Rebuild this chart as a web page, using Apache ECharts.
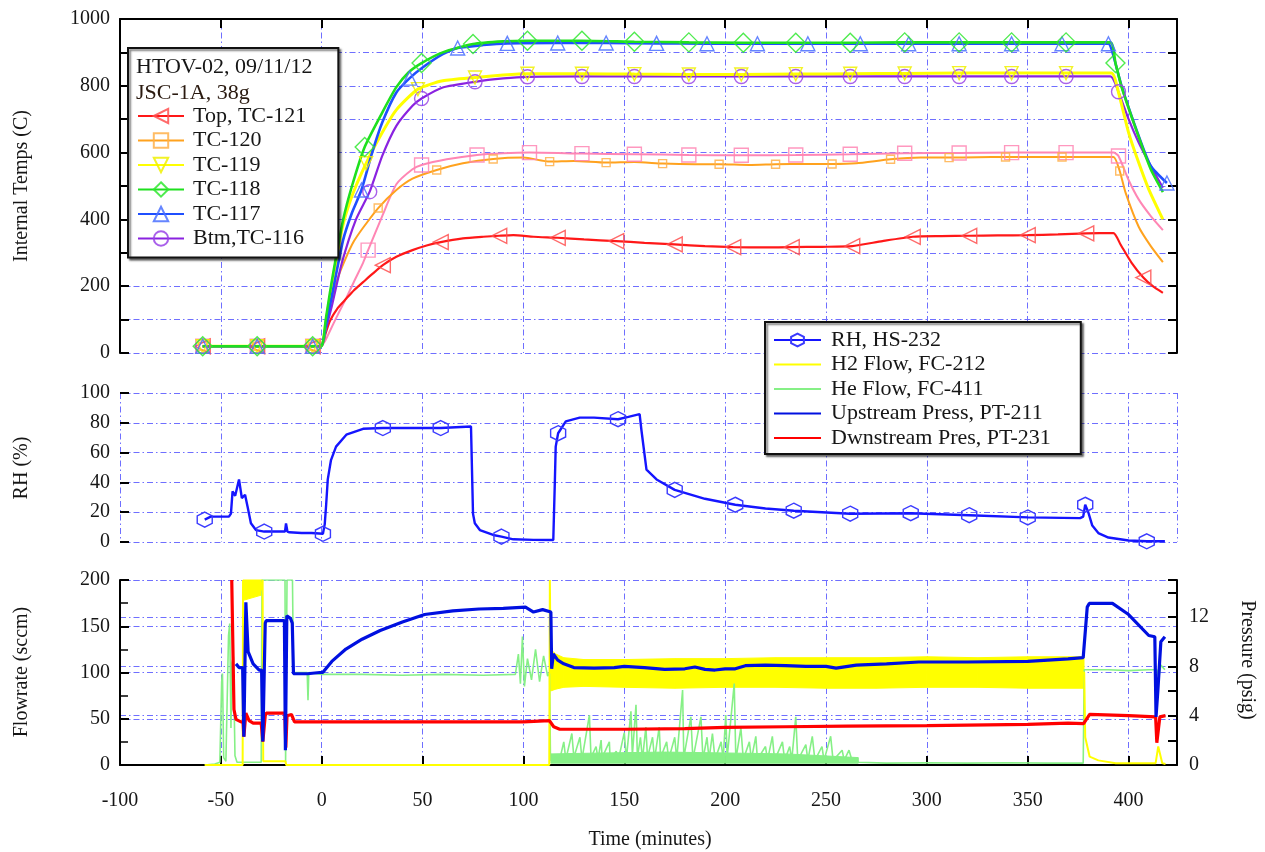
<!DOCTYPE html>
<html><head><meta charset="utf-8">
<script src="https://cdn.jsdelivr.net/npm/echarts@6/dist/echarts.min.js"></script>
<style>html,body{margin:0;padding:0;background:#fff}#c{width:1265px;height:852px}</style>
</head><body><div id="c"></div>
<script>
// ---------- DATA (time in minutes) ----------
const timeTicks = [-100,-50,0,50,100,150,200,250,300,350,400];
const preMarks = [-59,-32,-4.5];

const tc121 = [[-59,20],[-32,20],[-4.5,20],[0,22],[2,60],[4,95],[8,135],[12.2,163],[16,188],[20.5,212],[25,236],[30.3,263],[37,288],[45,308],[52,322],[59,332],[70,343],[80,348],[88,351],[95,353],[105,348],[117,345],[130,340],[146,335],[160,330],[175,325],[190,320],[204,317],[220,316],[233,317],[248,318],[263,320],[278,335],[293,348],[307,350],[321,351],[335,352],[350,353],[365,355],[379,358],[392.5,359],[396,325],[401.5,270],[407.3,226],[412,200],[417,180]];
const tc121Marks = [30.3,59,88,117,146,175,204,233,263,293,321,350,379,407.3];

const tc120 = [[-59,20],[-32,20],[-4.5,20],[0,22],[2,80],[4,140],[8,225],[12,285],[16,335],[20.5,375],[28,434],[37,488],[45,522],[57,548],[70,568],[85,581],[100,585],[113,573],[125,575],[141,570],[155,572],[169,567],[185,565],[197,565],[212,563],[225,565],[240,566],[253,566],[265,568],[282,580],[297,585],[311,585],[325,586],[339,587],[353,587],[367,587],[380,587],[392.5,587],[395.6,545],[398.5,480],[405,378],[411,320],[417,272]];
const tc120Marks = [28,57,85,113,141,169,197,225,253,282,311,339,367,395.6];

const tc119 = [[-59,20],[-32,20],[-4.5,20],[0,22],[2,90],[5,200],[10,370],[15,470],[22,568],[30,660],[37,728],[47.7,790],[60,815],[76,825],[90,832],[102,836],[129,836],[155,835],[182,834],[208,834],[235,835],[262,836],[289,837],[316,838],[342,838],[369,838],[391.5,838],[395,780],[400,660],[405,570],[410,490],[417,400]];
const tc119Marks = [22,47.7,76,102,129,155,182,208,235,262,289,316,342,369];

const tc118 = [[-59,20],[-32,20],[-4.5,20],[0,22],[2,100],[5,215],[10.6,398],[15,500],[21.3,617],[30,720],[37,796],[43,840],[49.5,868],[60,900],[75,925],[90,933],[102,935],[129,935],[155,932],[182,930],[209,929],[235,929],[262,929],[289,930],[316,930],[342,930],[369,930],[391,930],[393.5,868],[396.5,797],[405,647],[411,550],[417,482]];
const tc118Marks = [21.3,49.5,75,102,129,155,182,209,235,262,289,316,342,369,393.5];

const tc117 = [[-59,20],[-32,20],[-4.5,20],[0,22],[2,80],[5,170],[10.6,338],[15,420],[19.7,488],[25,600],[30,690],[37,780],[43.6,823],[50,855],[60,895],[67.4,913],[80,922],[92,927],[117,928],[141,928],[166,927],[191,926],[216,926],[241,926],[267,926],[291,926],[316,926],[342,926],[367,926],[390,926],[392,900],[396.5,800],[405,650],[411,560],[419,509]];
const tc117Marks = [19.7,43.6,67.4,92,117,141,166,191,216,241,267,291,316,342,367,390,419];

const tc116 = [[-59,20],[-32,20],[-4.5,20],[0,22],[2,70],[5,140],[10,270],[17,400],[23.8,483],[30,590],[37,680],[45,740],[49.5,762],[60,795],[76,812],[90,822],[102,827],[129,828],[155,828],[182,828],[208,828],[235,828],[262,828],[289,828],[316,828],[342,828],[369,828],[391,828],[395,782],[400,700],[405,630],[411,560],[417,495]];
const tc116Marks = [23.8,49.5,76,102,129,155,182,208,235,262,289,316,342,369,395];

const tcPink = [[-59,20],[-32,20],[-4.5,20],[0,22],[2,40],[4,65],[8,115],[12.2,165],[16.5,220],[20.5,270],[23,308],[30,410],[37,505],[45,550],[49.5,563],[62,580],[77,593],[90,598],[103,600],[129,597],[155,595],[182,593],[208,592],[235,593],[262,595],[289,598],[316,599],[342,600],[369,600],[392.5,600],[395,590],[400,518],[405,460],[411,410],[417,368]];
const tcPinkMarks = [23,49.5,77,103,129,155,182,208,235,262,289,316,342,369,395];

const rhData = [[-58,15],[-55,17],[-46,17],[-45,19],[-44.2,34],[-42.9,31],[-41,42],[-39.6,29.5],[-38,31.7],[-36.8,24],[-35.1,12.6],[-32.6,8],[-28.5,7],[-18.2,7],[-17.7,12.5],[-17,7],[-16,6.5],[-10,6],[-5,6],[0.6,5.5],[1.5,12],[2.2,25],[3,42],[4.6,55],[7.1,64],[12.2,72],[20.5,76],[30.3,76.5],[45,76.5],[59,76.5],[74,77.5],[75,19],[75.9,12.6],[78.4,8],[85,4.7],[89.1,3.6],[95,1.8],[105,1.4],[114.8,1.3],[115.6,42],[116,64],[117.2,73],[121,81],[127.9,83.5],[135,83.5],[146.9,82.4],[152,84],[157.6,85.8],[158.5,75],[161,48.6],[166,42],[175,35],[190,29],[205,25],[220,22.5],[234,21],[248,20],[262,19],[292,19.3],[321,18],[350,16.5],[376,16],[377.5,17],[378.5,25],[380,20],[382,11],[385,6],[390,3],[400,1],[409,0.5],[418,0.5]];
const rhMarks = [-58,-28.5,0.6,30.3,59,89.1,117.2,146.9,175,205,234,262,292,321,350,378.5,409];

const heFlow = [[-58,0],[-53,1],[-50.5,3],[-49.6,90],[-49.2,99],[-48.6,8],[-47.5,4],[-46.2,140],[-45.6,153],[-45,40],[-44.5,110],[-43.8,117],[-43,10],[-42,3],[-30,3],[-29.6,200],[-18.2,200],[-17.9,3],[-17.5,3],[-17.2,200],[-14.5,200],[-14,100],[-7.2,100],[-6.8,70],[-6.4,100],[0,98],[20,98],[40,97],[60,98],[80,97],[96,98],[97.5,120],[98.5,88],[99.5,139],[100.5,85],[102,115],[104,92],[106,125],[108,90],[110,118],[112,96],[113,100],[113.4,5],[116,8],[118,6],[120,25],[121,6],[124,34],[125,8],[128,30],[129,6],[132.7,54],[133.5,8],[136,20],[137,6],[138.5,27],[139,8],[142.6,25],[143,5],[146,15],[147,5],[150,35],[151,6],[153.3,58],[154,10],[155.8,65],[156.5,8],[158,30],[159,6],[160.7,41],[161.5,8],[164,30],[165,6],[167.3,41],[168,8],[171,25],[172,6],[175,30],[176,6],[178.9,81],[179.5,8],[183,52],[184,6],[188,52],[189,6],[191,30],[192,6],[193.7,34],[195,6],[198,25],[199,6],[200.3,54],[201,8],[204.5,88],[205.3,6],[207.8,40],[209,6],[212,25],[213,6],[215.2,31],[216,6],[220,20],[221,5],[223.4,31],[224.5,5],[228.4,25],[229.5,5],[232,20],[233,5],[235,52],[236,5],[240,22],[241,5],[243.2,31],[244.5,5],[248,20],[249,5],[252.3,31],[253.5,5],[258,16],[259,5],[261.4,16],[263,4],[266.3,3],[280,2],[300,2.5],[320,2],[340,2.5],[360,2],[377.5,2],[378,103],[390,103],[400,102],[410,103],[414,103],[415,95],[416,108],[418,103]];
// He flow noise floor envelope (113-266 min)
const heBandT = [113.6,140,170,200,230,266];
const heLow   = [2,2,2,2,2,2];
const heHigh  = [12,13,14,13,12,8];

const h2Flow = [[-58,0],[-39.2,0],[-39,200],[-37.5,182],[-36,196],[-34,186],[-32,199],[-30.5,188],[-29.3,200],[-29,4],[-18,4],[-17.6,0],[112.8,0],[113.1,200],[113.5,100],[378,100],[378.5,30],[380.7,9],[385,5],[393.6,2],[413.4,2],[414.7,20],[416.7,2],[418.3,1]];
// H2 flow oscillation envelopes
const h2PreT    = [-38.9,-29.4];
const h2PreLow  = [178,184];
const h2PreHigh = [200,200];
const h2BandT = [113.5,116,120,130,150,175,200,225,250,275,300,325,350,377.9];
const h2Low  = [80,82,84,85,84,83,84,84,83,83,84,84,83,83];
const h2High = [125,120,116,114,114,115,115,116,116,116,117,116,117,117];

const upPress = [[-42.5,8.2],[-41,7.9],[-39.2,7.9],[-38.6,2.3],[-37.6,13.2],[-36.5,9.2],[-34,8.2],[-31,7.7],[-29.8,7.7],[-29.2,1.9],[-28,11.5],[-27.5,11.7],[-18.5,11.7],[-18,1.2],[-17.3,12.1],[-15.5,11.9],[-14.6,11.5],[-14,7.4],[-7,7.4],[-1,7.5],[0.5,7.5],[5,8.4],[12,9.4],[20,10.2],[29,10.9],[40,11.6],[51,12.2],[65,12.5],[78,12.65],[90,12.7],[101,12.8],[105,12.4],[109.5,12.6],[113.6,12.4],[114,7.8],[114.8,9.0],[117,8.5],[120,8.2],[125,7.9],[135,7.85],[145,7.9],[150,8.0],[160,7.9],[170,7.75],[180,7.8],[185,7.95],[190,7.75],[195,7.7],[200,7.8],[205,7.8],[210,8.05],[220,8.1],[230,8.05],[240,8.0],[250,8.0],[255,7.85],[265,8.1],[280,8.2],[296,8.35],[320,8.35],[350,8.4],[370,8.6],[377.5,8.7],[379.5,12.8],[380.5,13.1],[392,13.1],[400,12.2],[410,10.5],[413,10.4],[413.6,3.9],[414.5,6],[416,10.0],[418,10.4]];

const dnPress = [[-44.6,15],[-43.5,4.5],[-42.5,3.7],[-40,3.5],[-39,3.5],[-38.6,2.3],[-37.6,4.2],[-36,3.6],[-34,3.4],[-30,3.4],[-29.2,1.9],[-28,4.0],[-27.5,4.2],[-18.3,4.2],[-17.8,1.4],[-17.2,4.0],[-15,4.1],[-14.2,4.0],[-13.5,3.5],[0,3.5],[50,3.5],[100,3.5],[112.9,3.6],[113.6,3.6],[115,3.1],[118,2.9],[150,2.9],[180,2.95],[200,3.05],[230,3.1],[260,3.15],[300,3.2],[350,3.3],[370,3.4],[377.7,3.35],[380.7,4.1],[400,4.0],[413.4,3.9],[414,1.8],[415.5,3.9],[418.3,4.0]];

// ---------- CHART ----------
const FONT = 'Liberation Serif';
const TXT = '#161616';
const GRIDC = '#6f6fff';
const dash = {show:true, lineStyle:{color:GRIDC, width:1, type:[6,3,1.5,3]}};
const noLine = {show:false};
const blackLine = {show:true, onZero:false, lineStyle:{color:'#000', width:2}};
const hiddenLine = {show:false, onZero:false};
const inTick = {show:true, inside:true, length:9, lineStyle:{color:'#000', width:2}};
const hexSym = 'path://M0,-10L8.66,-5L8.66,5L0,10L-8.66,5L-8.66,-5Z';

function withMarks(data, marks){
  return data.map(p => marks.some(m => Math.abs(m - p[0]) < 1e-6) ? {value:p} : {value:p, symbol:'none'});
}
function tempSeries(name, data, marks, lineColor, markColor, symbol, size, width, rot){
  return {name, type:'line', xAxisIndex:0, yAxisIndex:0, data:withMarks(data, marks),
    symbol, symbolSize:size, symbolRotate:rot||0, showSymbol:true, showAllSymbol:true,
    smooth:0.2, lineStyle:{color:lineColor, width},
    itemStyle:{color:'rgba(255,255,255,0)', borderColor:markColor, borderWidth:1.4, opacity:0.85},
    emphasis:{disabled:true}};
}
// band segments: [t0, t1, low0, high0, low1, high1]
function segs(T, L, H){ return T.slice(1).map((t,i) => [T[i], t, L[i], H[i], L[i+1], H[i+1]]); }
function bandSeries(name, data, color){
  return {name, type:'custom', xAxisIndex:3, yAxisIndex:3, data, silent:true,
    encode:{x:[0,1], y:[2,3,4,5]},
    renderItem:function(params, api){
      const a = api.coord([api.value(0), api.value(2)]);
      const b = api.coord([api.value(0), api.value(3)]);
      const c = api.coord([api.value(1), api.value(5)]);
      const d = api.coord([api.value(1), api.value(4)]);
      return {type:'polygon', shape:{points:[a,b,c,d]}, style:{fill:color, stroke:color, lineWidth:1}};
    }};
}

const xBase = {type:'value', min:-100, max:424, interval:50};
const lineOnly = {itemStyle:{opacity:0}};

const option = {
  animation:false,
  backgroundColor:'#fff',
  textStyle:{fontFamily:FONT},
  grid:[
    {left:120, right:88, top:19, height:334},
    {left:120, right:88, top:393, height:149},
    {left:120, right:88, top:580, height:185}
  ],
  xAxis:[
    Object.assign({}, xBase, {gridIndex:0, position:'bottom', axisLine:hiddenLine, axisTick:noLine, axisLabel:noLine, splitLine:dash}),
    Object.assign({}, xBase, {gridIndex:0, position:'top', axisLine:blackLine, axisTick:inTick, axisLabel:noLine, splitLine:noLine}),
    Object.assign({}, xBase, {gridIndex:1, position:'bottom', axisLine:hiddenLine, axisTick:noLine, axisLabel:noLine, splitLine:dash}),
    Object.assign({}, xBase, {gridIndex:2, position:'bottom', axisLine:blackLine, axisTick:inTick, splitLine:dash,
      axisLabel:{show:true, margin:26, fontFamily:FONT, fontSize:20, color:TXT, showMaxLabel:false,
        formatter:v => timeTicks.indexOf(v) >= 0 ? String(v) : ''}})
  ],
  yAxis:[
    {type:'value', gridIndex:0, position:'left', min:0, max:1000, interval:100, axisLine:blackLine, axisTick:inTick, splitLine:dash,
      axisLabel:{margin:10, fontFamily:FONT, fontSize:20, color:TXT, formatter:v => v % 200 === 0 ? String(v) : ''}},
    {type:'value', gridIndex:0, position:'right', min:0, max:1000, interval:100, axisLine:blackLine, axisTick:inTick, splitLine:noLine, axisLabel:noLine},
    {type:'value', gridIndex:1, position:'left', min:0, max:100, interval:20, axisLine:hiddenLine, axisTick:inTick, splitLine:dash,
      axisLabel:{margin:10, fontFamily:FONT, fontSize:20, color:TXT}},
    {type:'value', gridIndex:2, position:'left', min:0, max:200, interval:50, axisLine:blackLine, axisTick:inTick,
      minorTick:{show:true, splitNumber:2, length:8, lineStyle:{color:'#000', width:1.5}}, splitLine:dash,
      axisLabel:{margin:10, fontFamily:FONT, fontSize:20, color:TXT}},
    {type:'value', gridIndex:2, position:'right', min:0, max:15, interval:2, axisLine:blackLine, axisTick:inTick, splitLine:noLine, axisLabel:noLine},
    {type:'value', gridIndex:2, position:'right', min:0, max:15, interval:4, axisLine:hiddenLine, axisTick:noLine, splitLine:dash,
      axisLabel:{margin:12, fontFamily:FONT, fontSize:20, color:TXT, showMaxLabel:false}}
  ],
  legend:[
    {orient:'vertical', left:128, top:48, padding:[57,32,8,9], itemWidth:46, itemHeight:18, itemGap:2.5,
      backgroundColor:'#fff', borderColor:'#111', borderWidth:2, shadowColor:'rgba(0,0,0,0.5)', shadowBlur:2, shadowOffsetX:2, shadowOffsetY:2,
      textStyle:{fontFamily:FONT, fontSize:22, lineHeight:22, color:TXT, padding:[0,0,0,4]},
      data:['Top, TC-121','TC-120','TC-119','TC-118','TC-117','Btm,TC-116'], selectedMode:false},
    {orient:'vertical', left:765, top:322, padding:[7,30,5,8], itemWidth:47, itemHeight:16, itemGap:2.5,
      backgroundColor:'#fff', borderColor:'#111', borderWidth:2, shadowColor:'rgba(0,0,0,0.5)', shadowBlur:2, shadowOffsetX:2, shadowOffsetY:2,
      textStyle:{fontFamily:FONT, fontSize:22, lineHeight:22, color:TXT, padding:[0,0,0,5]},
      data:['RH, HS-232',
        Object.assign({name:'H2 Flow, FC-212'}, lineOnly),
        Object.assign({name:'He Flow, FC-411'}, lineOnly),
        Object.assign({name:'Upstream Press, PT-211'}, lineOnly),
        Object.assign({name:'Dwnstream Pres, PT-231'}, lineOnly)], selectedMode:false}
  ],
  graphic:[
    {type:'text', left:136, top:56, z:100, style:{text:'HTOV-02, 09/11/12', font:'22px "Liberation Serif"', fill:TXT}},
    {type:'text', left:136, top:82, z:100, style:{text:'JSC-1A, 38g', font:'22px "Liberation Serif"', fill:'#2a1a10'}},
    {type:'text', x:22, y:186, rotation:Math.PI/2, z:100, style:{text:'Internal Temps (C)', font:'20px "Liberation Serif"', fill:TXT, align:'center', verticalAlign:'middle'}},
    {type:'text', x:22, y:468, rotation:Math.PI/2, z:100, style:{text:'RH (%)', font:'20px "Liberation Serif"', fill:TXT, align:'center', verticalAlign:'middle'}},
    {type:'text', x:22, y:672, rotation:Math.PI/2, z:100, style:{text:'Flowrate (sccm)', font:'20px "Liberation Serif"', fill:TXT, align:'center', verticalAlign:'middle'}},
    {type:'text', x:1247, y:660, rotation:-Math.PI/2, z:100, style:{text:'Pressure (psig)', font:'20px "Liberation Serif"', fill:TXT, align:'center', verticalAlign:'middle'}},
    {type:'text', x:650, y:840, z:100, style:{text:'Time (minutes)', font:'20px "Liberation Serif"', fill:TXT, align:'center', verticalAlign:'middle'}}
  ],
  series:[
    tempSeries('TC-120b', tcPink, preMarks.concat(tcPinkMarks), '#ff86b4', '#ff86b4', 'rect', 14, 2),
    tempSeries('TC-120', tc120, preMarks.concat(tc120Marks), '#ffa21e', '#ffb04a', 'rect', 8, 2),
    tempSeries('Top, TC-121', tc121, preMarks.concat(tc121Marks), '#ff1818', '#ff5050', 'triangle', 15, 2.2, 90),
    tempSeries('Btm,TC-116', tc116, preMarks.concat(tc116Marks), '#8a22e0', '#9a44e6', 'circle', 14, 2.2),
    tempSeries('TC-119', tc119, preMarks.concat(tc119Marks), '#ffff00', '#f0f000', 'triangle', 13, 3, 180),
    tempSeries('TC-117', tc117, preMarks.concat(tc117Marks), '#1f4fff', '#4a70ff', 'triangle', 14, 2.6),
    tempSeries('TC-118', tc118, preMarks.concat(tc118Marks), '#1ee01e', '#30e830', 'diamond', 19, 2.6),
    {name:'RH, HS-232', type:'line', xAxisIndex:2, yAxisIndex:2, data:withMarks(rhData, rhMarks),
      symbol:hexSym, symbolSize:15, showSymbol:true, showAllSymbol:true,
      lineStyle:{color:'#1515ff', width:2.4}, itemStyle:{color:'rgba(255,255,255,0)', borderColor:'#3a3aff', borderWidth:1.4}},
    bandSeries('heband', segs(heBandT, heLow, heHigh), '#86f086'),
    {name:'He Flow, FC-411', type:'line', xAxisIndex:3, yAxisIndex:3, data:heFlow, symbol:'none',
      lineStyle:{color:'#86f086', width:1.6}, itemStyle:{color:'#86f086'}},
    bandSeries('h2pre', segs(h2PreT, h2PreLow, h2PreHigh), '#ffff00'),
    bandSeries('h2band', segs(h2BandT, h2Low, h2High), '#ffff00'),
    {name:'H2 Flow, FC-212', type:'line', xAxisIndex:3, yAxisIndex:3, data:h2Flow, symbol:'none',
      lineStyle:{color:'#ffff00', width:2}, itemStyle:{color:'#ffff00'}},
    {name:'Dwnstream Pres, PT-231', type:'line', xAxisIndex:3, yAxisIndex:4, data:dnPress, symbol:'none',
      lineStyle:{color:'#ff0000', width:3.2}, itemStyle:{color:'#ff0000'}},
    {name:'Upstream Press, PT-211', type:'line', xAxisIndex:3, yAxisIndex:4, data:upPress, symbol:'none',
      lineStyle:{color:'#0010e0', width:3.2}, itemStyle:{color:'#0010e0'}}
  ]
};
const chart = echarts.init(document.getElementById('c'), null, {renderer:'canvas'});
chart.setOption(option);
</script>
</body></html>
